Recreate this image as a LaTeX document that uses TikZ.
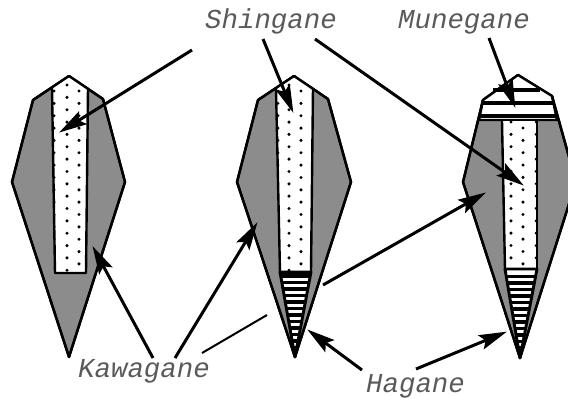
\documentclass[tikz,border=0pt]{standalone}
\usepackage{fontspec}
\setmonofont{Liberation Mono}
\usetikzlibrary{arrows.meta}
\definecolor{steelgray}{HTML}{8C8C8C}
\definecolor{labelgray}{HTML}{5A5A5A}
\tikzset{
  outline/.style={draw=black,line width=2.4pt,line join=round},
  edge/.style={draw=black,line width=2.9pt,line join=round},
  jacket/.style={outline,fill=steelgray},
  pointer/.style={line width=3pt,-{Stealth[length=28pt,width=15pt,inset=5pt]},shorten >=-1pt},
  plainline/.style={line width=2pt},
  label/.style={font=\ttfamily\itshape\fontsize{27.4}{27.4}\selectfont,text=labelgray,inner sep=0pt,anchor=base west},
  band/.style={line width=3.3pt}
}
\newcommand{\speckrows}[4]{% x, first y, count minus one, radius
  \foreach \i in {0,...,#3}{\fill (#1,{#2+12.35*\i}) circle (#4);}}
\begin{document}
\begin{tikzpicture}[x=1pt,y=-1pt]
\useasboundingbox (0,0) rectangle (568,397);
\clip (0,0) rectangle (568,397);
% Blade 1
\draw[jacket] (69,76)--(103,99)--(125,182)--(69,357)--(12,182)--(33,100)--cycle;
\fill[white] (52,88)--(69,76)--(88,88)--(86,273)--(55,273)--cycle;
\begin{scope}
\clip (52,88)--(69,76)--(88,88)--(86,273)--(55,273)--cycle;
\speckrows{54}{91}{15}{1.7}
\speckrows{67}{85}{15}{1.7}
\speckrows{79}{91}{14}{1.7}
\end{scope}
\draw[outline] (52,88)--(55,273)--(86,273)--(88,88);
\draw[outline] (69,76)--(103,99)--(125,182)--(69,357)--(12,182)--(33,100)--cycle;
% Blade 2
\draw[jacket] (294,76)--(328,99)--(351,182)--(295,357)--(237,182)--(258,100)--cycle;
\fill[white] (276,88)--(294,76)--(313,88)--(311,272)--(280,272)--cycle;
\begin{scope}
\clip (276,88)--(294,76)--(313,88)--(311,272)--(280,272)--cycle;
\speckrows{278}{91}{6}{1.5}
\speckrows{289}{85}{15}{1.7}
\speckrows{301}{91}{14}{1.7}
\end{scope}
\draw[outline] (276,88)--(280,272);
\draw[outline] (313,88)--(311,272);
\begin{scope}
\clip (280,272)--(311,272)--(295,357)--cycle;
\fill[white] (280,272) rectangle (311,357);
\fill (275,271) rectangle (315,278);
\foreach \i in {0,...,12}{\draw[band] (275,{282.5+6.5*\i})--(315,{282.5+6.5*\i});}
\end{scope}
\draw[edge] (280,272)--(311,272)--(295,357)--cycle;
\draw[outline] (294,76)--(328,99)--(351,182)--(295,357)--(237,182)--(258,100)--cycle;
% Blade 3
\draw[jacket] (518,75)--(552,96)--(576,182)--(520,358)--(463,182)--(483,100)--cycle;
\draw[outline,fill=white] (518,75)--(552,96)--(557,120)--(479,120)--(483,100)--cycle;
\draw[band] (493,90)--(540,90);
\draw[band] (483,103)--(553,103);
\draw[band] (480,116)--(557,116);
\fill[white] (502,121)--(537,121)--(537,269)--(505,269)--cycle;
\begin{scope}
\clip (502,121)--(537,121)--(537,269)--(505,269)--cycle;
\speckrows{511}{122}{11}{1.7}
\speckrows{523}{128}{11}{1.7}
\speckrows{536}{122}{12}{1.5}
\end{scope}
\draw[outline] (502,121)--(505,269);
\draw[outline] (537,121)--(537,269);
\begin{scope}
\clip (505,269)--(537,269)--(520,358)--cycle;
\fill[white] (505,269) rectangle (537,358);
\foreach \i in {0,...,13}{\draw[band] (500,{276.5+6.5*\i})--(540,{276.5+6.5*\i});}
\end{scope}
\draw[edge] (505,269)--(537,269)--(520,358)--cycle;
\draw[outline] (552,96)--(576,182)--(520,358)--(463,182)--(483,100);
% Labels
\node[label] (shingane) at (205,28) {Shingane};
\node[label] (munegane) at (398,28) {Munegane};
\node[label] (kawagane) at (78,377) {Kawagane};
\node[label] (hagane) at (366,392) {Hagane};
% Pointer ends
\coordinate (s1a) at (192,50); \coordinate (s1b) at (60,132);
\coordinate (s2a) at (263,39); \coordinate (s2b) at (293,112);
\coordinate (s3a) at (315,39); \coordinate (s3b) at (523,185);
\coordinate (m1a) at (489,38); \coordinate (m1b) at (515,107);
\coordinate (k1a) at (153,358); \coordinate (k1b) at (93,247);
\coordinate (k2a) at (175,358); \coordinate (k2b) at (257,223);
\coordinate (k3a) at (202,353); \coordinate (k3b) at (267,315);
\coordinate (k4a) at (323,285); \coordinate (k4b) at (485,193);
\coordinate (h1a) at (362,370); \coordinate (h1b) at (308,330);
\coordinate (h2a) at (416,369); \coordinate (h2b) at (506,332);
\foreach \p in {s1,s2,s3,m1,k1,k2,k4,h1,h2}{\draw[pointer] (\p a)--(\p b);}
\draw[plainline] (k3a)--(k3b);
\end{tikzpicture}
\end{document}
